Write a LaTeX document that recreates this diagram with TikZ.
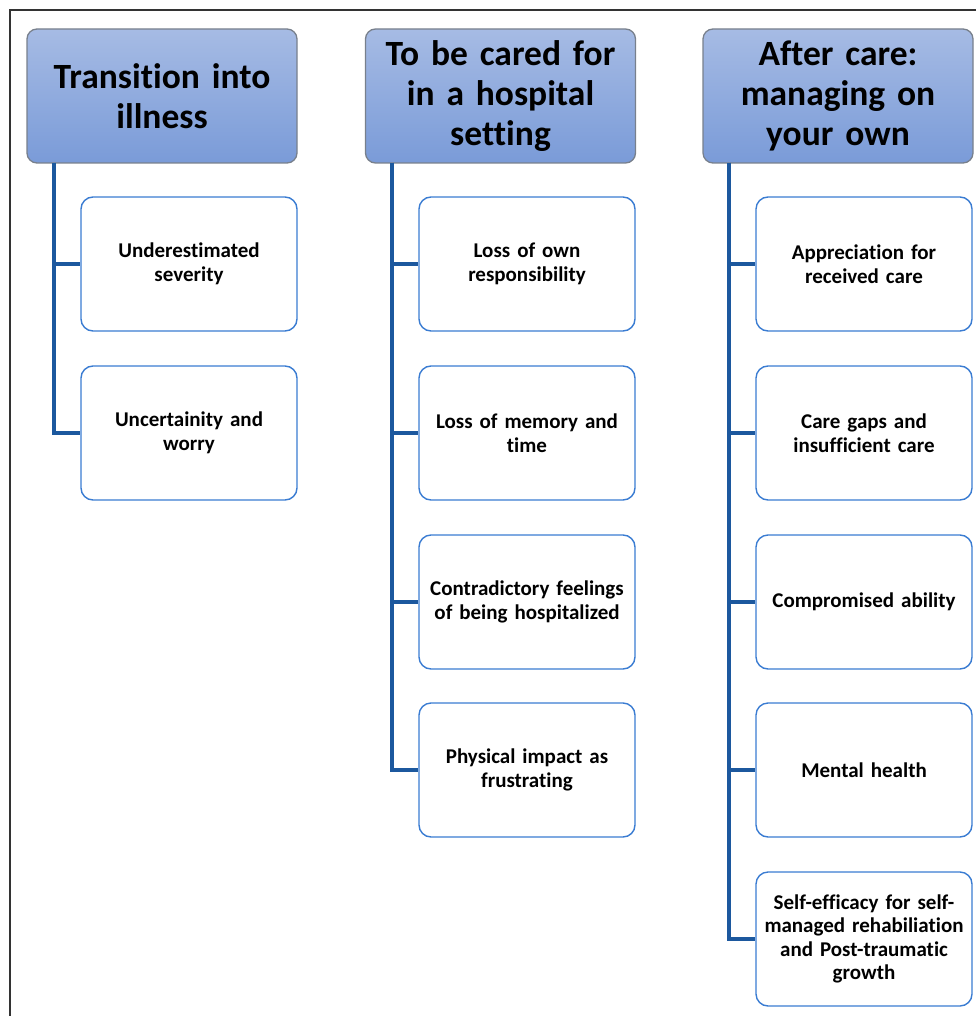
\documentclass[tikz,border=0pt]{standalone}
\usepackage{fontspec}
\setmainfont{Carlito}[Ligatures={NoCommon}]
\definecolor{hdtop}{RGB}{166,187,228}
\definecolor{hdbot}{RGB}{122,155,216}
\definecolor{hdline}{RGB}{120,128,140}
\definecolor{conncol}{RGB}{28,88,158}
\definecolor{boxline}{RGB}{58,124,210}
\tikzset{
  header/.style={draw=hdline, line width=1.3pt, rounded corners=10pt, top color=hdtop, bottom color=hdbot,
    minimum width=270pt, minimum height=134pt, text width=262pt, align=center, inner sep=0pt,
    font=\fontsize{35.5}{40}\selectfont\bfseries},
  childbox/.style={draw=boxline, line width=1.4pt, rounded corners=12pt, fill=white,
    minimum width=216pt, minimum height=134pt, text width=212pt, align=center, inner sep=0pt,
    font=\fontsize{21}{23.5}\selectfont\bfseries},
  conn/.style={draw=conncol, line width=3.3pt}
}
\begin{document}
\begin{tikzpicture}[x=1pt,y=-1pt]
\useasboundingbox (0,0) rectangle (976,1016);
\draw[line width=1.3pt, black!80] (976,10) -- (10,10) -- (10,1016);
% headers
\node[header] (h1) at (162,96) {Transition into\\illness};
\node[header] (h2) at (500.5,96) {To be cared for\\in a hospital\\setting};
\node[header] (h3) at (838,96) {After care:\\managing on\\your own};
% column 1
\node[childbox] (c11) at (189,264) {Underestimated\\severity};
\node[childbox] (c12) at (189,433) {Uncertainity and\\worry};
% column 2
\node[childbox] (c21) at (527,264) {Loss of own\\responsibility};
\node[childbox] (c22) at (527,433) {Loss of memory and\\time};
\node[childbox] (c23) at (527,602) {Contradictory feelings\\of being hospitalized};
\node[childbox] (c24) at (527,770) {Physical impact as\\frustrating};
% column 3
\node[childbox] (c31) at (864,264) {Appreciation for\\received care};
\node[childbox] (c32) at (864,433) {Care gaps and\\insufficient care};
\node[childbox] (c33) at (864,602) {Compromised ability};
\node[childbox] (c34) at (864,770) {Mental health};
\node[childbox] (c35) at (864,939) {Self-efficacy for self-\\managed rehabiliation\\and Post-traumatic\\growth};
% connectors
\coordinate (t1) at (54,163);
\coordinate (t2) at (392,163);
\coordinate (t3) at (729,163);
\foreach \c in {c11,c12} \draw[conn] (t1) |- (\c.west);
\foreach \c in {c21,c22,c23,c24} \draw[conn] (t2) |- (\c.west);
\foreach \c in {c31,c32,c33,c34,c35} \draw[conn] (t3) |- (\c.west);
\end{tikzpicture}
\end{document}
